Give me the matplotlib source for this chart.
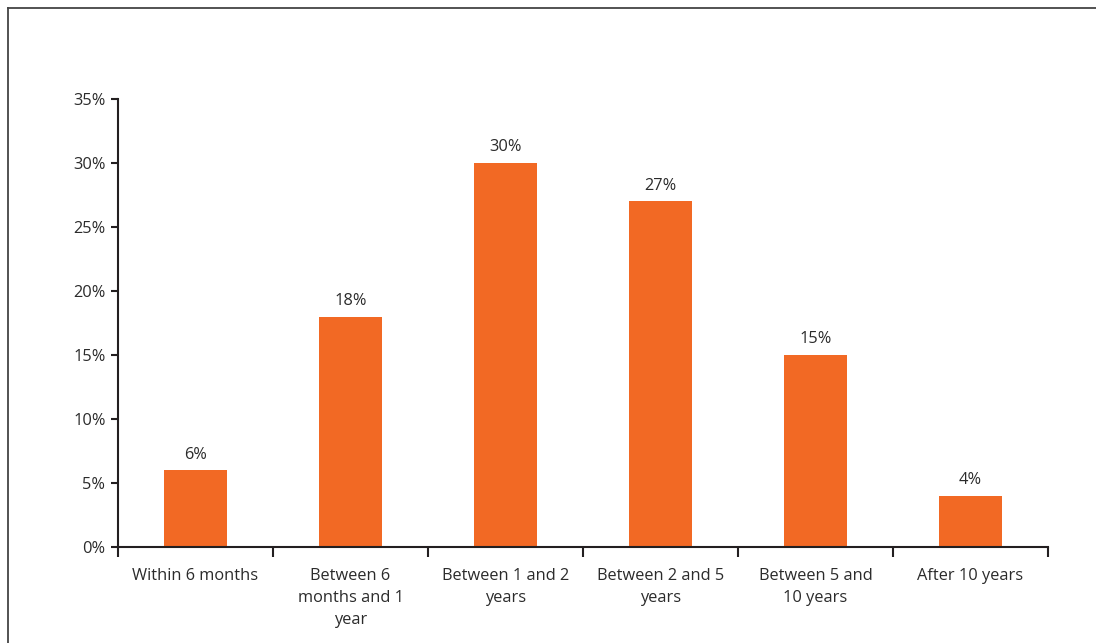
import matplotlib
matplotlib.use('Agg')
import matplotlib.pyplot as plt
from matplotlib.lines import Line2D
from matplotlib.ticker import PercentFormatter

categories = ['Within 6 months', 'Between 6\nmonths and 1\nyear', 'Between 1 and 2\nyears',
              'Between 2 and 5\nyears', 'Between 5 and\n10 years', 'After 10 years']
shares = [6, 18, 30, 27, 15, 4]
y_ticks = [0, 5, 10, 15, 20, 25, 30, 35]

bar_color = '#F26924'
ink = '#231F20'
text_color = '#2B2B2B'

plt.rcParams['font.family'] = ['Open Sans', 'DejaVu Sans']
plt.rcParams['font.size'] = 11.8

fig = plt.figure(figsize=(10.96, 6.43), dpi=100)
ax = fig.add_axes([118/1096, 1 - 547/643, 930/1096, (547 - 99)/643])

x = range(len(categories))
bars = ax.bar(x, shares, width=0.41, color=bar_color)
for b, v in zip(bars, shares):
    ax.annotate(f'{v}%', (b.get_x() + b.get_width()/2, v), xytext=(0, 5.5),
                textcoords='offset points', ha='center', va='bottom', color=text_color)

ax.set_xlim(-0.5, len(categories) - 0.5)
ax.set_ylim(0, 35)
ax.set_yticks(y_ticks)
ax.yaxis.set_major_formatter(PercentFormatter(decimals=0))

# category boundaries get the tick marks, labels sit centred underneath
ax.set_xticks([i - 0.5 for i in range(len(categories) + 1)])
ax.set_xticklabels([])
ax.set_xticks(list(x), minor=True)
ax.set_xticklabels(categories, minor=True, color=text_color, linespacing=1.5, va='top')
ax.tick_params(axis='x', which='major', direction='out', length=7, width=1.5, color=ink)
ax.tick_params(axis='x', which='minor', length=0, pad=15)
ax.tick_params(axis='y', direction='out', length=5, width=1.5, color=ink, labelcolor=text_color, pad=4)

for s in ['top', 'right']:
    ax.spines[s].set_visible(False)
for s in ['left', 'bottom']:
    ax.spines[s].set_linewidth(1.5)
    ax.spines[s].set_color(ink)

# frame lines along the top and left edge of the figure
fig.add_artist(Line2D([8/1096, 1], [1 - 7.5/643, 1 - 7.5/643], color='#444444', lw=1.3))
fig.add_artist(Line2D([8/1096, 8/1096], [0, 1 - 7.5/643], color='#444444', lw=1.3))

fig.savefig('out.png', dpi=100)
